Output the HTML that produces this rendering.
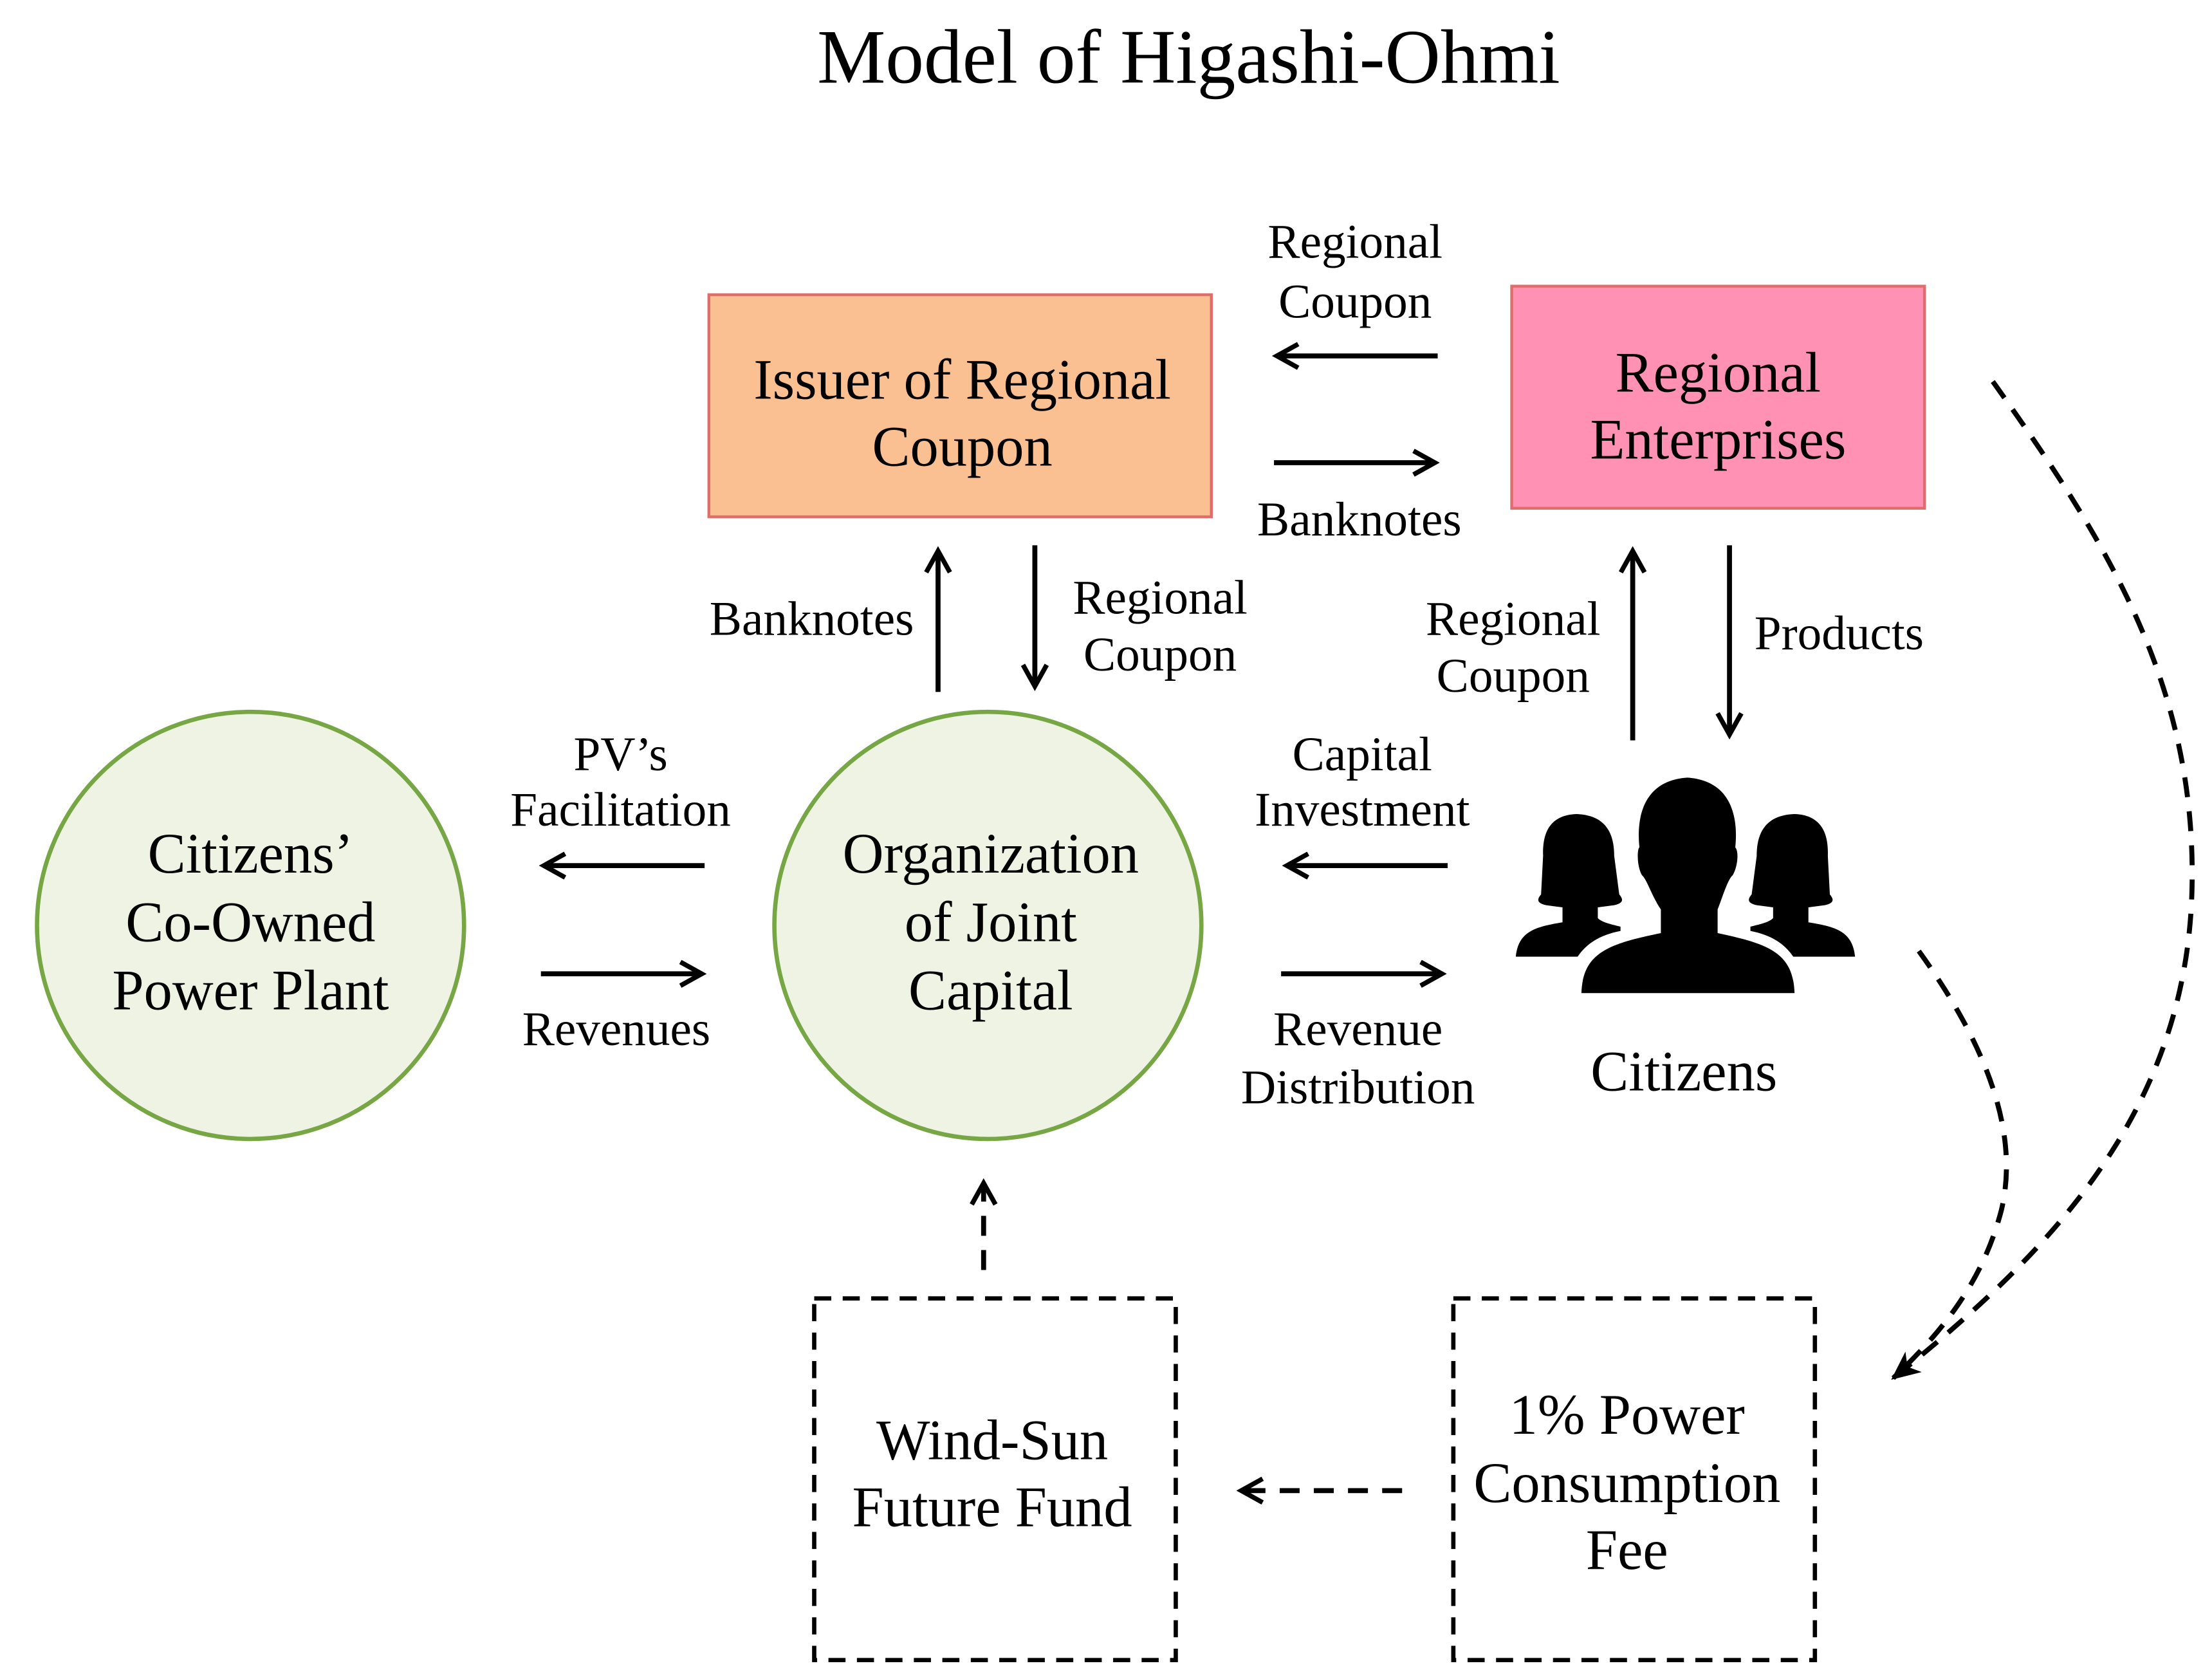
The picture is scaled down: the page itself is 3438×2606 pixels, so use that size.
<!DOCTYPE html>
<html><head><meta charset="utf-8"><style>
html,body{margin:0;padding:0;background:#fff;}
svg{display:block;}
text{font-family:"Liberation Serif",serif;fill:#000;}
</style></head><body>
<svg width="3438" height="2606" viewBox="0 0 3438 2606" xmlns="http://www.w3.org/2000/svg">
<defs>
<marker id="ah" viewBox="0 0 12 12" refX="10" refY="6" markerWidth="20" markerHeight="20" markerUnits="userSpaceOnUse" orient="auto">
<path d="M1,1 L10,6 L1,11" fill="none" stroke="#000" stroke-width="2"/>
</marker>
<marker id="ah2" viewBox="0 0 12 12" refX="10" refY="6" markerWidth="22" markerHeight="22" markerUnits="userSpaceOnUse" orient="auto">
<path d="M0,1 L11,6 L0,11 L3,6 Z" fill="#000"/>
</marker>
</defs>
<g transform="scale(2.2124)">
<text x="835" y="58" font-size="54" text-anchor="middle">Model of Higashi-Ohmi</text>

<rect x="498" y="207" width="353" height="156" fill="#fac091" stroke="#e06c6c" stroke-width="2"/>
<text x="676" y="280" font-size="40" text-anchor="middle">Issuer of Regional</text>
<text x="676" y="327" font-size="40" text-anchor="middle">Coupon</text>

<rect x="1062" y="201" width="290" height="156" fill="#ff92b4" stroke="#e06c6c" stroke-width="2"/>
<text x="1207" y="275" font-size="40" text-anchor="middle">Regional</text>
<text x="1207" y="322" font-size="40" text-anchor="middle">Enterprises</text>

<g stroke="#000" stroke-width="3.5" fill="none" marker-end="url(#ah)">
<line x1="1010" y1="250" x2="897" y2="250"/>
<line x1="895" y1="325" x2="1008" y2="325"/>
<line x1="659" y1="486" x2="659" y2="387"/>
<line x1="727" y1="383" x2="727" y2="482"/>
<line x1="1147" y1="520" x2="1147" y2="387"/>
<line x1="1215" y1="383" x2="1215" y2="516"/>
<line x1="495" y1="608" x2="382" y2="608"/>
<line x1="380" y1="684" x2="493" y2="684"/>
<line x1="1017" y1="608" x2="904" y2="608"/>
<line x1="900" y1="684" x2="1013" y2="684"/>
</g>

<g font-size="34" text-anchor="middle">
<text x="952" y="181">Regional</text>
<text x="952" y="223">Coupon</text>
<text x="955" y="376">Banknotes</text>
<text x="642" y="446" text-anchor="end">Banknotes</text>
<text x="815" y="431">Regional</text>
<text x="815" y="471">Coupon</text>
<text x="1063" y="446">Regional</text>
<text x="1063" y="486">Coupon</text>
<text x="1292" y="456">Products</text>
<text x="436" y="541">PV’s</text>
<text x="436" y="580">Facilitation</text>
<text x="433" y="734">Revenues</text>
<text x="957" y="541">Capital</text>
<text x="957" y="580">Investment</text>
<text x="954" y="734">Revenue</text>
<text x="954" y="775">Distribution</text>
</g>

<circle cx="176" cy="650" r="150" fill="#eef3e3" stroke="#77a744" stroke-width="3"/>
<circle cx="694" cy="650" r="150" fill="#eef3e3" stroke="#77a744" stroke-width="3"/>
<g font-size="40" text-anchor="middle">
<text x="176" y="613">Citizens’</text>
<text x="176" y="661">Co-Owned</text>
<text x="176" y="709">Power Plant</text>
<text x="696" y="613">Organization</text>
<text x="696" y="661">of Joint</text>
<text x="696" y="709">Capital</text>
<text x="1183" y="766">Citizens</text>
</g>

<g fill="none" stroke="#000" stroke-width="3" stroke-dasharray="12 8">
<rect x="572" y="912" width="254" height="254"/>
<rect x="1021" y="912" width="254" height="254"/>
</g>
<g font-size="40" text-anchor="middle">
<text x="697" y="1025">Wind-Sun</text>
<text x="697" y="1072">Future Fund</text>
<text x="1143" y="1007">1% Power</text>
<text x="1143" y="1055">Consumption</text>
<text x="1143" y="1102">Fee</text>
</g>

<g fill="none" stroke="#000" stroke-width="3.5" stroke-dasharray="14 10">
<line x1="691" y1="892" x2="691" y2="831" marker-end="url(#ah)"/>
<line x1="985" y1="1047" x2="872" y2="1047" marker-end="url(#ah)"/>
<path d="M1400,268 C1480,380 1542,480 1540,620 C1538,780 1440,880 1330,968" marker-end="url(#ah2)"/>
<path d="M1348,668 C1400,740 1418,800 1406,850 C1393,900 1365,935 1330,968"/>
</g>
</g>

<g transform="translate(2356,1180) scale(0.392,0.3333)">
<path d="M240,255 C130,260 105,350 108,450 L100,630 C85,650 80,670 120,680 L185,690 L185,760 C80,780 10,800 0,920 L245,920 C280,860 330,820 415,800 L415,780 C380,770 340,760 325,740 L325,690 L390,680 C430,670 425,650 410,630 L390,450 C390,350 360,260 240,255 Z" fill="#000"/>
<g transform="translate(1345,0) scale(-1,1)">
<path d="M240,255 C130,260 105,350 108,450 L100,630 C85,650 80,670 120,680 L185,690 L185,760 C80,780 10,800 0,920 L245,920 C280,860 330,820 415,800 L415,780 C380,770 340,760 325,740 L325,690 L390,680 C430,670 425,650 410,630 L390,450 C390,350 360,260 240,255 Z" fill="#000"/>
</g>
<path d="M575,700 C540,640 520,560 500,540 C480,500 480,420 490,410 C480,300 490,100 680,85 C870,100 880,300 870,410 C885,430 880,500 860,540 C840,560 820,640 800,700 L800,810 C1000,860 1100,900 1105,1090 L260,1090 C265,900 370,860 575,810 Z" fill="#000" stroke="#fff" stroke-width="40" paint-order="stroke"/>
</g>
</svg>
</body></html>
